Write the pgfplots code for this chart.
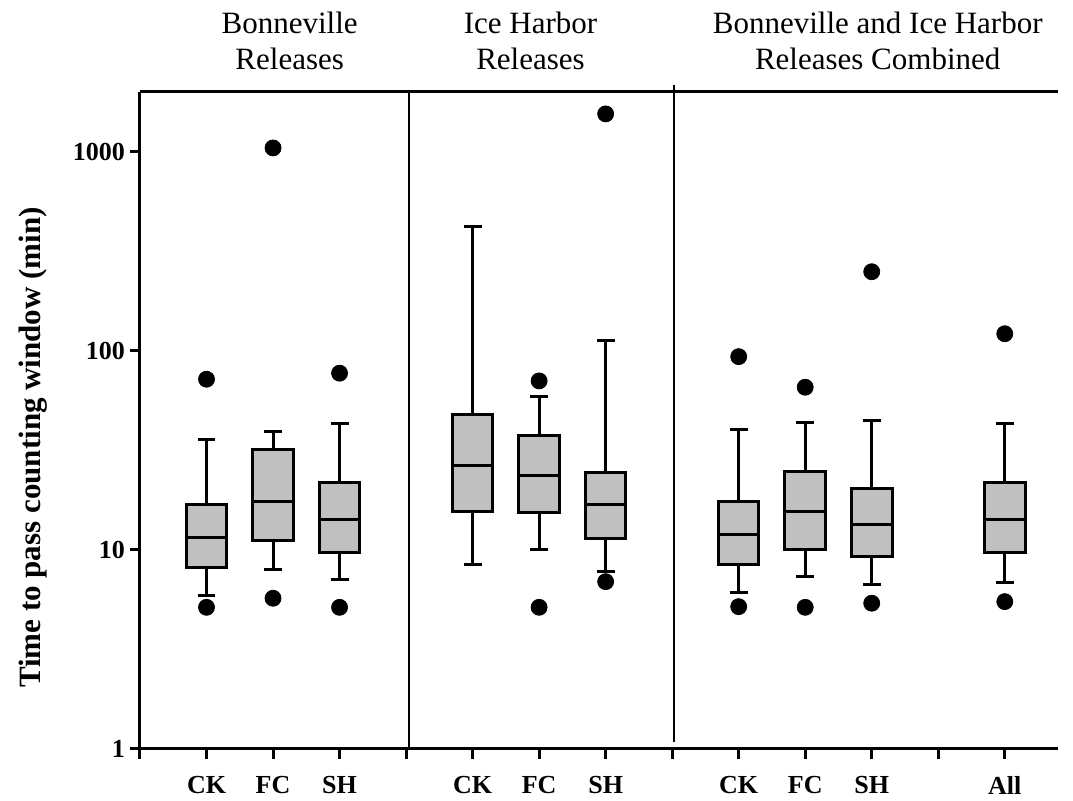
\documentclass[border=0pt]{standalone}
\usepackage{fontspec}
\setmainfont{Liberation Serif}
\usepackage{pgfplots}
\pgfplotsset{compat=1.18}
\definecolor{boxgray}{RGB}{192,192,192}
% #1 position, #2 lower whisker, #3 Q1, #4 median, #5 Q3, #6 upper whisker
\newcommand{\bx}[6]{%
 \pgfmathsetmacro\bxL{#1-0.305}\pgfmathsetmacro\bxR{#1+0.305}%
 \pgfmathsetmacro\bxcL{#1-0.135}\pgfmathsetmacro\bxcR{#1+0.135}%
 \addplot[black, line width=1.5pt] coordinates {(#1,#2) (#1,#3)};
 \addplot[black, line width=1.5pt] coordinates {(#1,#5) (#1,#6)};
 \addplot[black, line width=1.5pt] coordinates {(\bxcL,#2) (\bxcR,#2)};
 \addplot[black, line width=1.5pt] coordinates {(\bxcL,#6) (\bxcR,#6)};
 \addplot[draw=black, line width=1.5pt, fill=boxgray] coordinates {(\bxL,#3) (\bxR,#3) (\bxR,#5) (\bxL,#5)} -- cycle;
 \addplot[black, line width=1.5pt] coordinates {(\bxL,#4) (\bxR,#4)};
}
\begin{document}
\begin{tikzpicture}
\begin{axis}[
  scale only axis,
  width=459pt, height=328.5pt,
  xmin=0, xmax=13.8,
  ymode=log, ymin=1, ymax=2000,
  enlargelimits=false,
  clip=false,
  axis lines=left,
  axis line style={-, line width=1.5pt},
  tick style={line width=1.5pt, black},
  tick align=outside,
  major tick length=5pt,
  yminorticks=false,
  xtick={0,1,2,3,4,5,6,7,8,9,10,11,12,13},
  xticklabels={,CK,FC,SH,,CK,FC,SH,,CK,FC,SH,,All},
  ytick={1,10,100,1000},
  yticklabels={1,10,100,1000},
  ticklabel style={font=\fontsize{13}{15}\selectfont\bfseries},
  xticklabel style={yshift=-5pt},
  yticklabel style={xshift=1pt},
  ylabel={Time to pass counting window (min)},
  ylabel style={at={(rel axis cs:0,0.459)}, anchor=center, yshift=53.5pt, font=\fontsize{15.5}{18}\selectfont\bfseries},
]
% Bonneville releases
\bx{1}{5.92}{8.19}{11.6}{17.0}{35.7}
\bx{2}{7.94}{11.2}{17.5}{32.1}{39.6}
\bx{3}{7.07}{9.73}{14.3}{21.9}{43.1}
% Ice Harbor releases
\bx{5}{8.5}{15.6}{26.7}{47.7}{421}
\bx{6}{10.1}{15.5}{23.6}{37.5}{58.9}
\bx{7}{7.78}{11.4}{17.0}{24.4}{113}
% Combined
\bx{9}{6.13}{8.47}{12.0}{17.6}{40.1}
\bx{10}{7.34}{10.1}{15.6}{24.9}{43.8}
\bx{11}{6.72}{9.26}{13.5}{20.3}{44.7}
\bx{13}{6.88}{9.70}{14.3}{21.9}{43.3}
% outliers
\addplot[only marks, mark=*, mark size=4pt, black] coordinates {
 (1,72.1) (1,5.15)
 (2,1047) (2,5.72)
 (3,77.3) (3,5.15)
 (6,70.7) (6,5.15)
 (7,1552) (7,6.93)
 (9,93.6) (9,5.19)
 (10,65.7) (10,5.15)
 (11,250) (11,5.40)
 (13,122) (13,5.50)
};
% top line and separators
\draw[line width=1.5pt] (axis cs:0,2000) -- (axis cs:13.8,2000);
\draw[line width=1pt] (axis cs:4.04,1) -- (axis cs:4.04,2000);
\draw[line width=1pt] (axis cs:8.02,1.084) -- (axis cs:8.02,2162);
% titles
\node[align=center, anchor=south, inner sep=0pt, yshift=11pt, font=\fontsize{15.5}{18}\selectfont] at (axis cs:2.25,2000) {Bonneville\\Releases};
\node[align=center, anchor=south, inner sep=0pt, yshift=11pt, font=\fontsize{15.5}{18}\selectfont] at (axis cs:5.87,2000) {Ice Harbor\\Releases};
\node[align=center, anchor=south, inner sep=0pt, yshift=11pt, font=\fontsize{15.5}{18}\selectfont] at (axis cs:11.09,2000) {Bonneville and Ice Harbor\\Releases Combined};
\coordinate (O) at (rel axis cs:0,0);
\end{axis}
\path (O) ++(-70pt,-26pt) rectangle ++(536.5pt,400.5pt);
\end{tikzpicture}
\end{document}
